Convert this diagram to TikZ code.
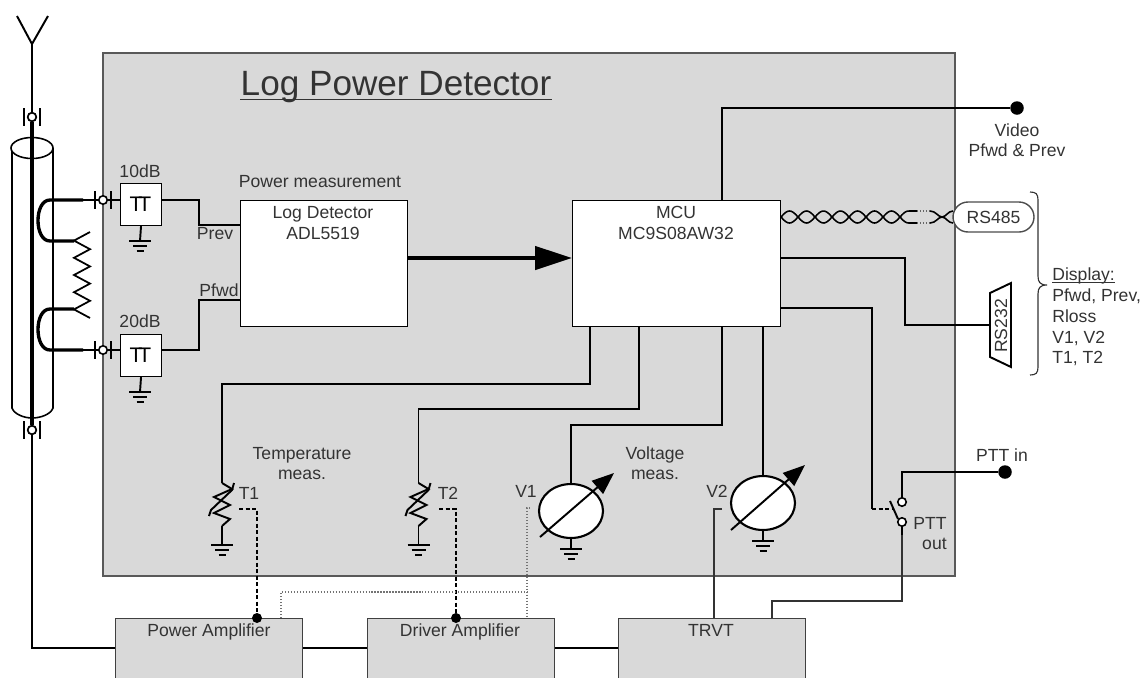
\documentclass[tikz,border=0pt]{standalone}
\usepackage{fontspec}
\setmainfont{Liberation Sans}
\usepackage{xcolor}
\usetikzlibrary{arrows.meta,shapes.geometric,calc}
\definecolor{panelgray}{HTML}{D9D9D9}
\definecolor{inkgray}{HTML}{333333}

\begin{document}
\begin{tikzpicture}[x=0.02cm,y=-0.02cm,
		wire/.style={line width=1.1pt,line join=miter},
		hook/.style={line width=1.9pt},
		thinwire/.style={line width=0.65pt,black!80},
		dotwire/.style={line width=0.7pt,black!55,densely dotted},
		dashwire/.style={line width=1.2pt,dash pattern=on 2.4pt off 1.3pt},
		lbl/.style={inner sep=0pt,align=center,text=inkgray,font=\fontsize{10}{11.6}\selectfont},
		whitebox/.style={draw,line width=0.6pt,fill=white,inner sep=0pt,anchor=north west},
		ampbox/.style={draw=black!75,line width=0.8pt,fill=panelgray,inner sep=0pt,anchor=north west,minimum width=3.74cm,minimum height=1.6cm},
		contact/.style={circle,draw,line width=0.9pt,fill=white,inner sep=0pt,minimum size=0.17cm},
		dot/.style={circle,fill=black,inner sep=0pt,minimum size=0.27cm},
		smalldot/.style={circle,fill=black,inner sep=0pt,minimum size=0.2cm},
		meter/.style={ellipse,draw,line width=1.2pt,fill=white,inner sep=0pt,minimum width=1.28cm,minimum height=1.08cm},
		needle/.style={line width=1.1pt,-{Triangle[length=0.44cm,width=0.34cm]}},
		gnd/.pic={
			\draw[line width=1pt] (-11,0) -- (11,0);
			\draw[line width=1pt] (-7,5) -- (7,5);
			\draw[line width=1.2pt] (-3.5,10) -- (3.5,10);
		},
		bars/.pic={
			\draw[line width=0.9pt] (-8,-9) -- (-8,9);
			\draw[line width=0.9pt] (8,-9) -- (8,9);
		},
		therm/.pic={
			\draw[wire] (0,0) -- (10,6) -- (-8,14) -- (8,22) -- (-8,30) -- (8,36) -- (0,43);
			\draw[wire] (-13,33) -- (-11,27) -- (10,7) -- (12,0);
		}]
		
		\useasboundingbox (0,0) rectangle (1142,677);
		\clip (0,0) rectangle (1142,677);
		
		% Detector panel
		\fill[panelgray] (103,53) rectangle (955,576);
		\draw[line width=0.9pt,black!65] (103,576) -- (103,53) -- (955,53) -- (955,576) -- cycle;
		\node[lbl,font=\fontsize{20}{24}\selectfont,anchor=base] (title) at (396,95) {Log Power Detector};
		\draw[line width=1.1pt,inkgray] (title.west |- 0,99.5) -- (title.east |- 0,99.5);
		
		% Antenna
		\draw[wire] (17,16) -- (32,44) -- (48,16);
		\coordinate (antfoot) at (32,44);
		\node[contact] (contop) at (32,117) {};
		\node[contact] (conbot) at (32,430) {};
		\pic at (contop) {bars};
		\pic at (conbot) {bars};
		\draw[wire] (antfoot) -- (contop);
		
		% Coax cable
		\draw[line width=0.9pt,fill=white] (12,148) -- (12,408) .. controls (14,414) and (24,418) .. (32,418) .. controls (41,418) and (51,414) .. (53,408) -- (53,148);
		\draw[line width=0.9pt,fill=white] (32,148) ellipse (21 and 10.5);
		\draw[hook] (contop) -- (conbot);
		\node[contact] at (contop) {};
		\node[contact] at (conbot) {};
		\coordinate (trunk) at (32,648);
		
		% Coupler loops and load
		\coordinate (hooka) at (83,200);
		\coordinate (hookb) at (83,350);
		\node[contact] (cona) at (103,200) {};
		\node[contact] (conb) at (103,350) {};
		\pic at (cona) {bars};
		\pic at (conb) {bars};
		\draw[hook] (hooka) -- (50,200) .. controls (34,200) and (34,241) .. (50,241) -- (74,241);
		\draw[hook] (74,309) -- (50,309) .. controls (34,309) and (34,350) .. (50,350) -- (hookb);
		\draw[line width=1pt] (90,232) -- (74,240.6) -- (90,249.2) -- (74,257.8) -- (90,266.4) -- (74,275) -- (90,283.6) -- (74,292.2) -- (90,300.8) -- (74,309.4) -- (90,318);
		\draw[wire] (hooka) -- (cona);
		\draw[wire] (hookb) -- (conb);
		
		% Attenuators
		\node[whitebox,minimum width=0.82cm,minimum height=0.84cm] (atta) at (120,183) {};
		\node[whitebox,minimum width=0.82cm,minimum height=0.84cm] (attb) at (120,334) {};
		\node[lbl,text=black,font=\fontsize{12}{12}\selectfont] (atatext) at (140.5,204) {T\kern-0.2em T};
		\node[lbl,text=black,font=\fontsize{12}{12}\selectfont] (attbtext) at (140.5,355) {T\kern-0.2em T};
		\node[lbl] (attalbl) at (140,171) {10dB};
		\node[lbl] (attblbl) at (140,321) {20dB};
		\draw[wire] (cona) -- (atta.west |- cona);
		\draw[wire] (conb) -- (attb.west |- conb);
		\coordinate (gnda) at (140,241);
		\coordinate (gndb) at (140,392);
		\draw[wire] (atta.south) -- (gnda);
		\draw[wire] (attb.south) -- (gndb);
		\pic at (gnda) {gnd};
		\pic at (gndb) {gnd};
		
		% Log detector
		\node[whitebox,minimum width=3.34cm,minimum height=2.52cm] (logdet) at (240,200) {};
		\node[lbl] (logtext) at (323,223) {Log Detector\\ADL5519};
		\node[lbl] (powerlbl) at (320,182) {Power measurement};
		\draw[wire] (atta.east |- cona) -| (199,225) -- (logdet.west |- 0,225);
		\draw[wire] (attb.east |- conb) -| (199,300) -- (logdet.west |- 0,300);
		\node[lbl] (prevlbl) at (215,234) {Prev};
		\node[lbl] (pfwdlbl) at (219,290) {Pfwd};
		
		% MCU
		\node[whitebox,minimum width=4.16cm,minimum height=2.52cm] (mcu) at (572,200) {};
		\node[lbl] (mcutext) at (676,223) {MCU\\MC9S08AW32};
		\draw[line width=2.6pt,-{Triangle[length=0.74cm,width=0.46cm]}] (logdet.east |- 0,258) -- (mcu.west |- 0,258);
		
		% Video output
		\node[dot] (video) at (1017,108) {};
		\draw[wire] (722,200) |- (video);
		\node[lbl] (videolbl) at (1017,140) {Video\\Pfwd \& Prev};
		
		% Twisted pair to RS485
		\node[draw=black!70,line width=0.8pt,fill=white,rounded corners=0.3cm,inner sep=0pt,minimum width=1.62cm,minimum height=0.6cm,text=inkgray,font=\fontsize{10}{12}\selectfont] (rsa) at (993.5,217) {RS485};
		\draw[line width=0.9pt] plot[domain=781:909,samples=90] (\x,{217+6*sin((\x-781)/17*180)}) -- (917,211);
		\draw[line width=0.9pt] plot[domain=781:909,samples=90] (\x,{217-6*sin((\x-781)/17*180)}) -- (917,223);
		\draw[line width=0.7pt,black!60,densely dotted] (917,211) -- (930,211);
		\draw[line width=0.7pt,black!60,densely dotted] (917,223) -- (930,223);
		\draw[line width=0.9pt] (930,211) .. controls (936,211) and (938,217) .. (942,217) .. controls (946,217) and (948,223) .. (953,223);
		\draw[line width=0.9pt] (930,223) .. controls (936,223) and (938,217) .. (942,217) .. controls (946,217) and (948,211) .. (953,211);
		
		% RS232 connector
		\coordinate (rsbpin) at (990,325);
		\draw[line width=1.1pt,fill=white] (990,293) -- (1011,283) -- (1011,367) -- (990,357) -- cycle;
		\node[lbl,rotate=90] (rsblbl) at (1001,326) {RS232};
		\draw[wire] (780,258) -- (905,258) |- (rsbpin);
		
		% Display brace
		\draw[thinwire] (1030,192) .. controls (1036,192) and (1038,194) .. (1038,200) -- (1038,276) .. controls (1038,282) and (1040,285) .. (1047,285) .. controls (1040,285) and (1038,288) .. (1038,294) -- (1038,367) .. controls (1038,373) and (1036,375) .. (1030,375);
		\node[lbl,align=left,anchor=north west,font=\fontsize{10}{11.9}\selectfont] (displbl) at (1052,280) {\underline{\smash{Display:}}\\Pfwd, Prev,\\Rloss\\V1, V2\\T1, T2};
		
		% Temperature sensors
		\coordinate (tha) at (222,483);
		\coordinate (thb) at (418.5,483);
		\coordinate (gndc) at (222,545);
		\coordinate (gndd) at (418.5,545);
		\pic at (tha) {therm};
		\pic at (thb) {therm};
		\draw[wire] (590,326) |- (tha |- 0,384) -- (tha);
		\draw[wire] (639,326) |- (thb |- 0,409) -- (thb);
		\draw[wire] ($(tha)+(0,43)$) -- (gndc);
		\draw[wire] ($(thb)+(0,43)$) -- (gndd);
		\pic at (gndc) {gnd};
		\pic at (gndd) {gnd};
		\node[lbl] (thalbl) at (249,493) {T1};
		\node[lbl] (thblbl) at (448,493) {T2};
		\node[lbl] (templbl) at (302,463.5) {Temperature\\meas.};
		
		% Voltage meters
		\node[meter] (volta) at (571,511) {};
		\node[meter] (voltb) at (763,503) {};
		\draw[needle] ($(volta)+(-31,26)$) -- ($(volta)+(43,-38)$);
		\draw[needle] ($(voltb)+(-32,27)$) -- ($(voltb)+(42,-38)$);
		\draw[wire] (722,326) |- (571,425) -- (volta.north);
		\draw[wire] (voltb |- mcu.south) -- (voltb.north);
		\coordinate (gnde) at (571,549);
		\coordinate (gndf) at (763,541);
		\draw[wire] (volta.south) -- (gnde);
		\draw[wire] (voltb.south) -- (gndf);
		\pic at (gnde) {gnd};
		\pic at (gndf) {gnd};
		\node[lbl] (voltalbl) at (526,491) {V1};
		\node[lbl] (voltblbl) at (717,491) {V2};
		\node[lbl] (voltlbl) at (655,463.5) {Voltage\\meas.};
		
		% PTT switch
		\node[contact] (ptthi) at (902,502) {};
		\node[contact] (pttlo) at (902,522) {};
		\node[dot] (pttin) at (1005,472) {};
		\draw[wire] (ptthi) |- (pttin);
		\draw[wire] (890,501) -- (898,519);
		\draw[wire] (780,308) -- (872,308) -- (872,509);
		\draw[dashwire] (872,509) -- (893,509);
		\node[lbl] (pttinlbl) at (1002,455) {PTT in};
		\node[lbl,align=right,anchor=north east] (pttoutlbl) at (947,517) {PTT\\out};
		
		% Amplifier chain
		\node[ampbox] (pa) at (115,618) {};
		\node[ampbox] (da) at (367,618) {};
		\node[ampbox] (trvt) at (618,618) {};
		\draw[wire] (conbot) -- (trunk) -- (pa.west |- trunk);
		\draw[wire] (pa.east |- trunk) -- (da.west |- trunk);
		\draw[wire] (da.east |- trunk) -- (trvt.west |- trunk);
		\node[lbl,anchor=base] (palbl) at (209,636) {Power Amplifier};
		\node[smalldot] (tapa) at (257,618) {};
		\node[smalldot] (tapb) at (456,618) {};
		\node[lbl,anchor=base] (dalbl) at (460,636) {Driver Amplifier};
		\node[lbl,anchor=base] (trvtlbl) at (711,636) {TRVT};
		
		% Control lines from amplifiers
		\draw[dashwire] (239,509) -| (tapa);
		\draw[dashwire] (439,509) -| (tapb);
		\draw[dotwire] (530,508) -| (527,618);
		\draw[dotwire] (281,618) |- (527,592);
		\draw[thinwire] (722,509) -| (714,618);
		\draw[thinwire] (772,618) |- (902,601) -- (pttlo);
		\draw[wire] (pttlo) -- +(0,13);
		
	\end{tikzpicture}
\end{document}
